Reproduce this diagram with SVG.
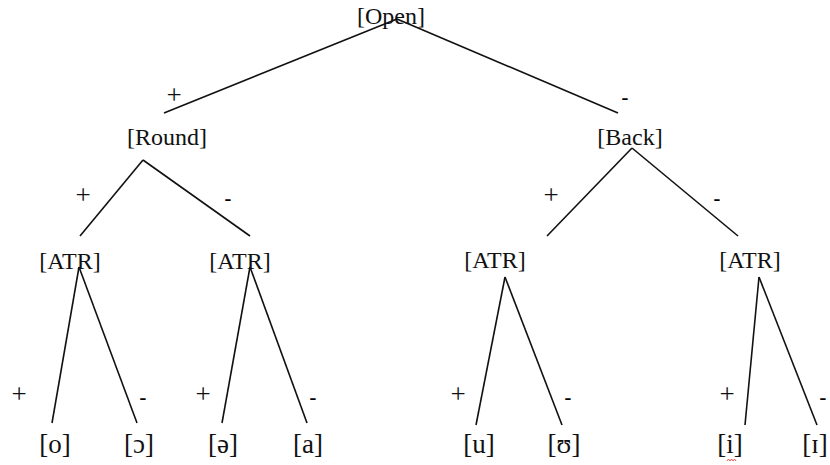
<svg xmlns="http://www.w3.org/2000/svg" width="830" height="465" viewBox="0 0 830 465">
<style>
.n{font-family:"Liberation Serif","Times New Roman",serif;font-size:24px;fill:#111;text-anchor:middle}
.l{font-family:"Liberation Serif","Times New Roman",serif;font-size:27px;fill:#111;text-anchor:middle}
.p{font-family:"Liberation Serif","Times New Roman",serif;font-size:27px;fill:#111;text-anchor:middle}
.m{font-family:"Liberation Sans",Arial,sans-serif;font-size:22px;fill:#000;text-anchor:middle}
.e{stroke:#111;stroke-width:1.6;fill:none}
</style>
<rect width="830" height="465" fill="#fff"/>
<g id="connectors">
<line class="e" x1="397" y1="19" x2="164" y2="113"/>
<line class="e" x1="397" y1="19" x2="618" y2="113"/>
<line class="e" x1="143" y1="160" x2="80" y2="236"/>
<line class="e" x1="143" y1="160" x2="250" y2="236"/>
<line class="e" x1="632" y1="148" x2="547" y2="236"/>
<line class="e" x1="632" y1="148" x2="738" y2="236"/>
<line class="e" x1="79" y1="267" x2="52" y2="423"/>
<line class="e" x1="79" y1="267" x2="137" y2="423"/>
<line class="e" x1="250" y1="267" x2="222" y2="423"/>
<line class="e" x1="250" y1="267" x2="307" y2="423"/>
<line class="e" x1="505" y1="277" x2="476" y2="425"/>
<line class="e" x1="505" y1="277" x2="562" y2="425"/>
<line class="e" x1="759" y1="277" x2="745" y2="425"/>
<line class="e" x1="759" y1="277" x2="817" y2="425"/>
</g>
<g id="edge-labels">
<text class="p" x="174" y="104">+</text>
<text class="m" x="625" y="105">-</text>
<text class="p" x="83" y="204">+</text>
<text class="m" x="228" y="206">-</text>
<text class="p" x="551" y="204">+</text>
<text class="m" x="717" y="206">-</text>
<text class="p" x="19" y="403">+</text>
<text class="m" x="143" y="405">-</text>
<text class="p" x="203" y="403">+</text>
<text class="m" x="313" y="405">-</text>
<text class="p" x="458" y="403">+</text>
<text class="m" x="568" y="405">-</text>
<text class="p" x="727" y="403">+</text>
<text class="m" x="823" y="405">-</text>
</g>
<g id="open"><text class="n" x="391" y="24">[Open]</text></g>
<g id="round"><text class="n" x="167" y="145">[Round]</text></g>
<g id="back"><text class="n" x="630" y="145">[Back]</text></g>
<g id="atr1"><text class="n" x="70" y="269">[ATR]</text></g>
<g id="atr2"><text class="n" x="240" y="269">[ATR]</text></g>
<g id="atr3"><text class="n" x="495" y="268">[ATR]</text></g>
<g id="atr4"><text class="n" x="750" y="268">[ATR]</text></g>
<g id="o"><text class="l" x="55" y="453">[o]</text></g>
<g id="open-o"><text class="l" x="139" y="453">[ɔ]</text></g>
<g id="schwa"><text class="l" x="223" y="453">[ə]</text></g>
<g id="a"><text class="l" x="308" y="453">[a]</text></g>
<g id="u"><text class="l" x="479" y="453">[u]</text></g>
<g id="upsilon"><text class="l" x="564" y="453">[ʊ]</text></g>
<g id="i"><text class="l" x="730" y="453">[i]</text>
<path d="M727 461 l1.5 -2 l1.5 2 l1.5 -2 l1.5 2 l1.5 -2 l1.5 2" stroke="#e03030" stroke-width="0.8" fill="none"/></g>
<g id="small-i"><text class="l" x="815" y="453">[ɪ]</text></g>
</svg>
